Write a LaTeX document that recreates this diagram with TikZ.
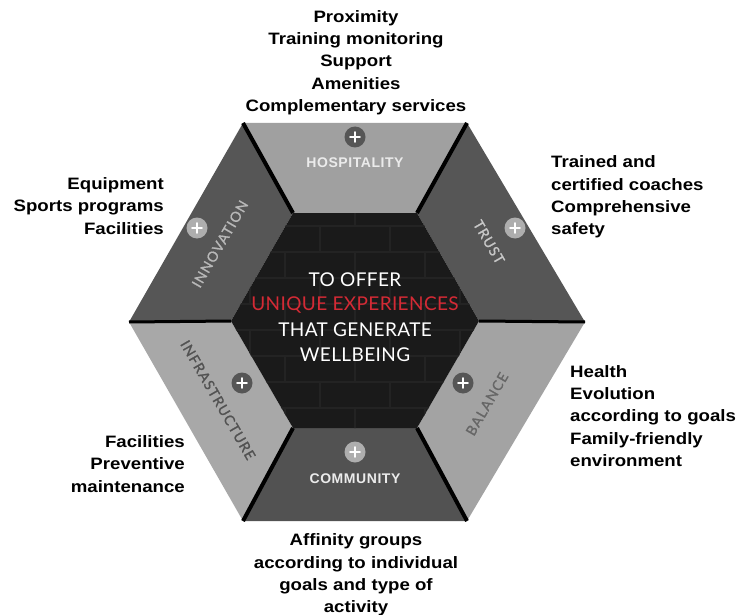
\documentclass[tikz,border=0pt]{standalone}
\usepackage{fontspec}
\setmainfont{Liberation Sans}
\newfontfamily\lab{Liberation Sans}[FakeStretch=1.13]
\newfontfamily\ctr{Lato}[LetterSpace=2]
\newfontfamily\seg{Liberation Sans}[LetterSpace=4]
\newfontfamily\rot{Lato}[LetterSpace=8, FakeBold=1.2]
\definecolor{lightseg}{HTML}{A0A0A0}
\definecolor{darkseg}{HTML}{565656}
\definecolor{core}{HTML}{1A1A1A}
\definecolor{brickline}{HTML}{232323}
\definecolor{redtxt}{HTML}{D42A35}
\tikzset{
  seglight/.style={fill=lightseg, draw=none},
  segdark/.style={fill=darkseg, draw=none},
  spoke/.style={line width=4pt, draw=black},
  brick/.style={line width=1.2pt, draw=brickline},
  plusc/.style={circle, minimum size=21pt, inner sep=0pt, draw=none},
  plusline/.style={line width=1.6pt, draw=white, line cap=round},
  outtext/.style={font=\lab\bfseries\fontsize{16.5}{22.3}\selectfont, inner sep=0pt, text=black},
  segtext/.style={font=\seg\bfseries\fontsize{14}{16}\selectfont, inner sep=0pt},
  rottext/.style={font=\rot\fontsize{14}{16}\selectfont, inner sep=0pt},
  ctrtext/.style={font=\ctr\fontsize{19}{20}\selectfont, inner sep=0pt, text=white}
}
\begin{document}
\begin{tikzpicture}[x=1pt,y=-1pt]
\useasboundingbox (0,0) rectangle (736,615);
% outer vertices
\coordinate (O1) at (243,123);
\coordinate (O2) at (467,123);
\coordinate (O3) at (585,322);
\coordinate (O4) at (467,521);
\coordinate (O5) at (243,521);
\coordinate (O6) at (129,322);
% inner vertices
\coordinate (I1) at (293,213);
\coordinate (I2) at (417,213);
\coordinate (I3) at (479,321);
\coordinate (I4) at (417,428);
\coordinate (I5) at (293,428);
\coordinate (I6) at (231,321);
% segments
\fill[seglight] (O1)--(O2)--(I2)--(I1)--cycle;
\fill[segdark]  (O2)--(O3)--(I3)--(I2)--cycle;
\fill[seglight, fill=lightseg!97!white] (O3)--(O4)--(I4)--(I3)--cycle;
\fill[segdark, fill=darkseg!95!black]  (O4)--(O5)--(I5)--(I4)--cycle;
\fill[seglight, fill=lightseg!92!white] (O5)--(O6)--(I6)--(I5)--cycle;
\fill[segdark]  (O6)--(O1)--(I1)--(I6)--cycle;
% core
\fill[core] (I1)--(I2)--(I3)--(I4)--(I5)--(I6)--cycle;
\begin{scope}
\clip (I1)--(I2)--(I3)--(I4)--(I5)--(I6)--cycle;
\foreach \r in {0,...,9} {
  \draw[brick] (220,{200+26*\r}) -- (490,{200+26*\r});
  \foreach \c in {0,...,4} {
    \draw[brick] ({215+70*\c+35*mod(\r,2)},{200+26*\r}) -- ++(0,26);
  }
}
\end{scope}
% spokes
\draw[spoke] (O1) -- (I1);
\draw[spoke] (O2) -- (I2);
\draw[spoke, line width=3pt] (O3) -- (I3);
\draw[spoke] (O4) -- (I4);
\draw[spoke] (O5) -- (I5);
\draw[spoke, line width=3pt] (O6) -- (I6);
% plus icons
\node[plusc, fill=darkseg] (pH) at (355,137) {};
\node[plusc, fill=lightseg!85!white] (pN) at (197,228) {};
\node[plusc, fill=lightseg!85!white] (pT) at (515,228) {};
\node[plusc, fill=darkseg] (pI) at (242,383) {};
\node[plusc, fill=darkseg] (pB) at (463,383) {};
\node[plusc, fill=lightseg!85!white] (pC) at (355,452) {};
\foreach \p in {pH,pN,pT,pI,pB,pC} {
  \draw[plusline] ([xshift=-5pt]\p.center) -- ([xshift=5pt]\p.center);
  \draw[plusline] ([yshift=-5pt]\p.center) -- ([yshift=5pt]\p.center);
}
% segment labels
\node[segtext, text=white!92!black] (lH) at (355,163) {HOSPITALITY};
\node[segtext, text=white!92!black] (lC) at (355,479) {COMMUNITY};
\node[rottext, text=white!72!black, rotate=60] (lN) at (220,244) {INNOVATION};
\node[rottext, text=white!78!black, rotate=-60] (lT) at (489,242) {TRUST};
\node[rottext, text=black!68, rotate=-60] (lI) at (218,400) {INFRASTRUCTURE};
\node[rottext, text=black!60, rotate=60] (lB) at (487,404) {BALANCE};
% center text
\node[ctrtext] (c1) at (355,280) {TO OFFER};
\node[ctrtext, text=redtxt] (c2) at (355,305) {UNIQUE EXPERIENCES};
\node[ctrtext] (c3) at (355,330) {THAT GENERATE};
\node[ctrtext] (c4) at (355,355) {WELLBEING};
% outer texts
\node[outtext, align=center] (tTop) at (356,62.5) {Proximity\\Training monitoring\\Support\\Amenities\\Complementary services};
\node[outtext, align=right, anchor=east] (tUL) at (164,206) {Equipment\\Sports programs\\Facilities};
\node[outtext, align=left, anchor=west] (tUR) at (551,197) {Trained and\\certified coaches\\Comprehensive\\safety};
\node[outtext, align=left, anchor=west] (tLR) at (570,416) {Health\\Evolution\\according to goals\\Family-friendly\\environment};
\node[outtext, align=right, anchor=east] (tLL) at (185,464) {Facilities\\Preventive\\maintenance};
\node[outtext, align=center] (tBot) at (356,575) {Affinity groups\\according to individual\\goals and type of\\activity};
\end{tikzpicture}
\end{document}
